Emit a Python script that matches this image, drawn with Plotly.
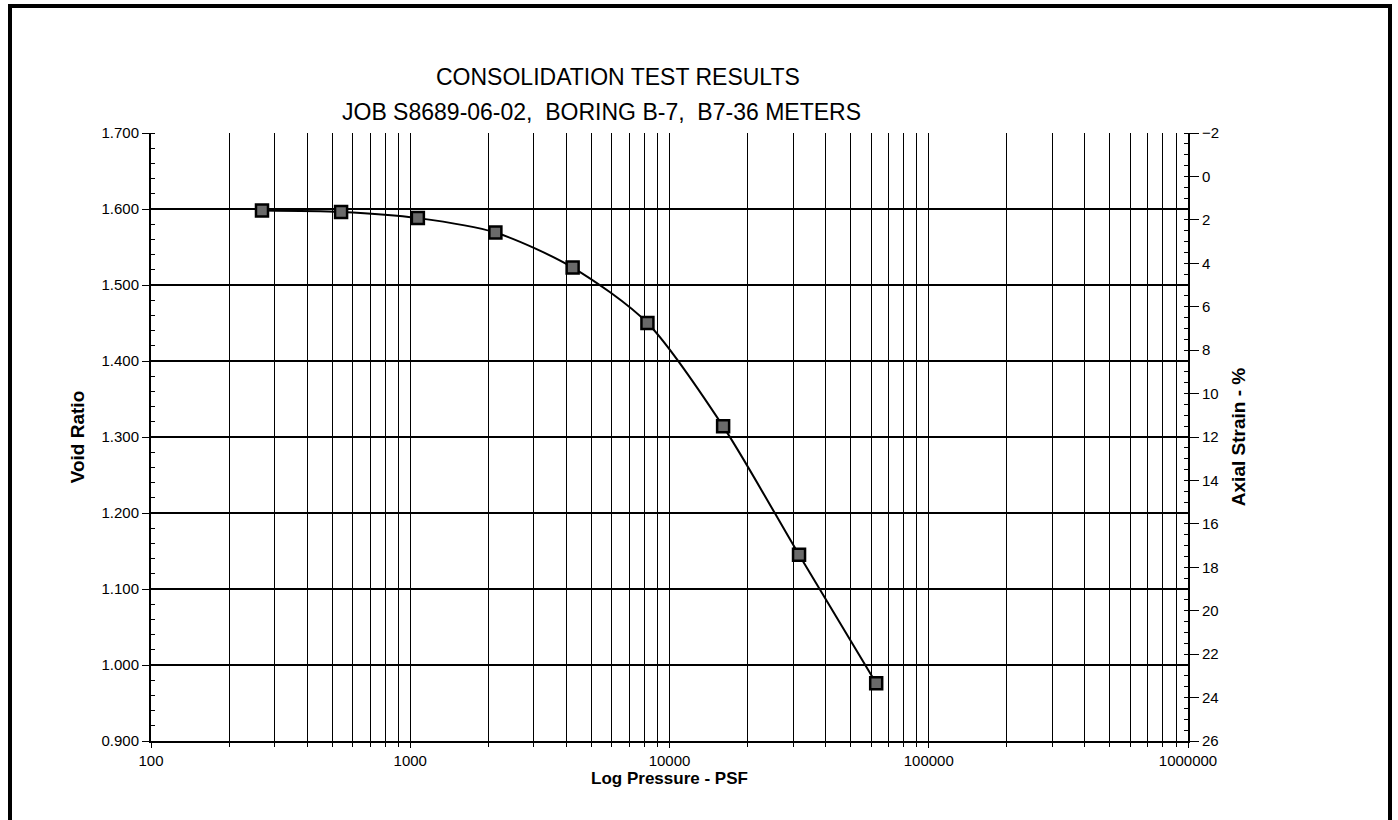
import plotly.graph_objects as go

# Load steps (psf) and measured void ratio at the end of each step
pressure_psf = [268, 541, 1070, 2130, 4230, 8220, 16100, 31600, 62700]
void_ratio = [1.598, 1.596, 1.588, 1.569, 1.523, 1.450, 1.314, 1.145, 0.976]

# Axial strain scale (%), shown on the right-hand axis, top to bottom
strain_top, strain_bottom = -2, 26

title_text = "CONSOLIDATION TEST RESULTS"
subtitle_text = "JOB S8689-06-02,  BORING B-7,  B7-36 METERS"
x_title = "Log Pressure - PSF"
y_title = "Void Ratio"
y2_title = "Axial Strain - %"

FONT = "Liberation Sans, Arial, sans-serif"

# minor log gridlines at 2..9 of every decade between 100 and 1,000,000
minor_x = [m * 10 ** k for k in range(2, 6) for m in range(2, 10)]

fig = go.Figure()
fig.add_trace(go.Scatter(
    x=pressure_psf, y=void_ratio,
    mode="lines+markers",
    line=dict(color="black", width=2, shape="spline", smoothing=0.8),
    marker=dict(symbol="square", size=12, color="#6a6a6a",
                line=dict(color="black", width=2.5)),
    showlegend=False,
))
# empty trace so the right-hand strain axis is laid out
fig.add_trace(go.Scatter(x=[], y=[], yaxis="y2", showlegend=False,
                         hoverinfo="skip"))

fig.update_layout(
    width=1398, height=820,
    margin=dict(l=151, r=210, t=133, b=79),
    paper_bgcolor="white", plot_bgcolor="white",
    font=dict(family=FONT, color="black", size=15),
    xaxis=dict(
        type="log", range=[2, 6], dtick=1, tickformat="d",
        showgrid=True, gridcolor="black", gridwidth=1.4,
        showline=True, linecolor="black", linewidth=1.5,
        ticks="outside", ticklen=5, tickcolor="black",
        tickfont=dict(size=15),
        minor=dict(tickvals=minor_x, showgrid=True, gridcolor="black",
                   gridwidth=1.3, ticks="outside", ticklen=4, tickcolor="black"),
        title=dict(text=f"<b>{x_title}</b>", font=dict(size=17), standoff=4),
        zeroline=False,
    ),
    yaxis=dict(
        range=[0.9, 1.7], dtick=0.1, tickformat=".3f",
        showgrid=True, gridcolor="black", gridwidth=1.5,
        showline=True, linecolor="black", linewidth=2,
        ticks="outside", ticklen=7, tickcolor="black",
        tickfont=dict(size=15),
        minor=dict(dtick=0.02, ticks="inside", ticklen=4, tickcolor="black",
                   showgrid=False),
        title=dict(text=f"<b>{y_title}</b>", font=dict(size=19), standoff=12),
        zeroline=False,
    ),
    yaxis2=dict(
        overlaying="y", side="right", anchor="x",
        range=[strain_bottom, strain_top], dtick=2,
        showgrid=False,
        showline=True, linecolor="black", linewidth=2,
        ticks="outside", ticklen=9, tickcolor="black",
        tickfont=dict(size=15),
        minor=dict(dtick=0.5, ticks="inside", ticklen=4, tickcolor="black"),
        title=dict(text=f"<b>{y2_title}</b>", font=dict(size=19), standoff=14),
        zeroline=False,
    ),
    annotations=[
        dict(text=title_text, xref="paper", yref="paper",
             x=(618 - 151) / 1037, y=(741 - 77) / 608,
             xanchor="center", yanchor="middle", showarrow=False,
             font=dict(size=23, family=FONT)),
        dict(text=subtitle_text, xref="paper", yref="paper",
             x=(340 - 151) / 1037, y=(741 - 112) / 608,
             xanchor="left", yanchor="middle", showarrow=False,
             font=dict(size=23, family=FONT)),
    ],
    shapes=[
        # page frame around the chart
        dict(type="rect", xref="paper", yref="paper",
             x0=(10 - 151) / 1037, x1=(1390 - 151) / 1037,
             y0=(741 - 840) / 608, y1=(741 - 6) / 608,
             line=dict(color="black", width=4), layer="above"),
    ],
)

fig.write_html("out.html")
